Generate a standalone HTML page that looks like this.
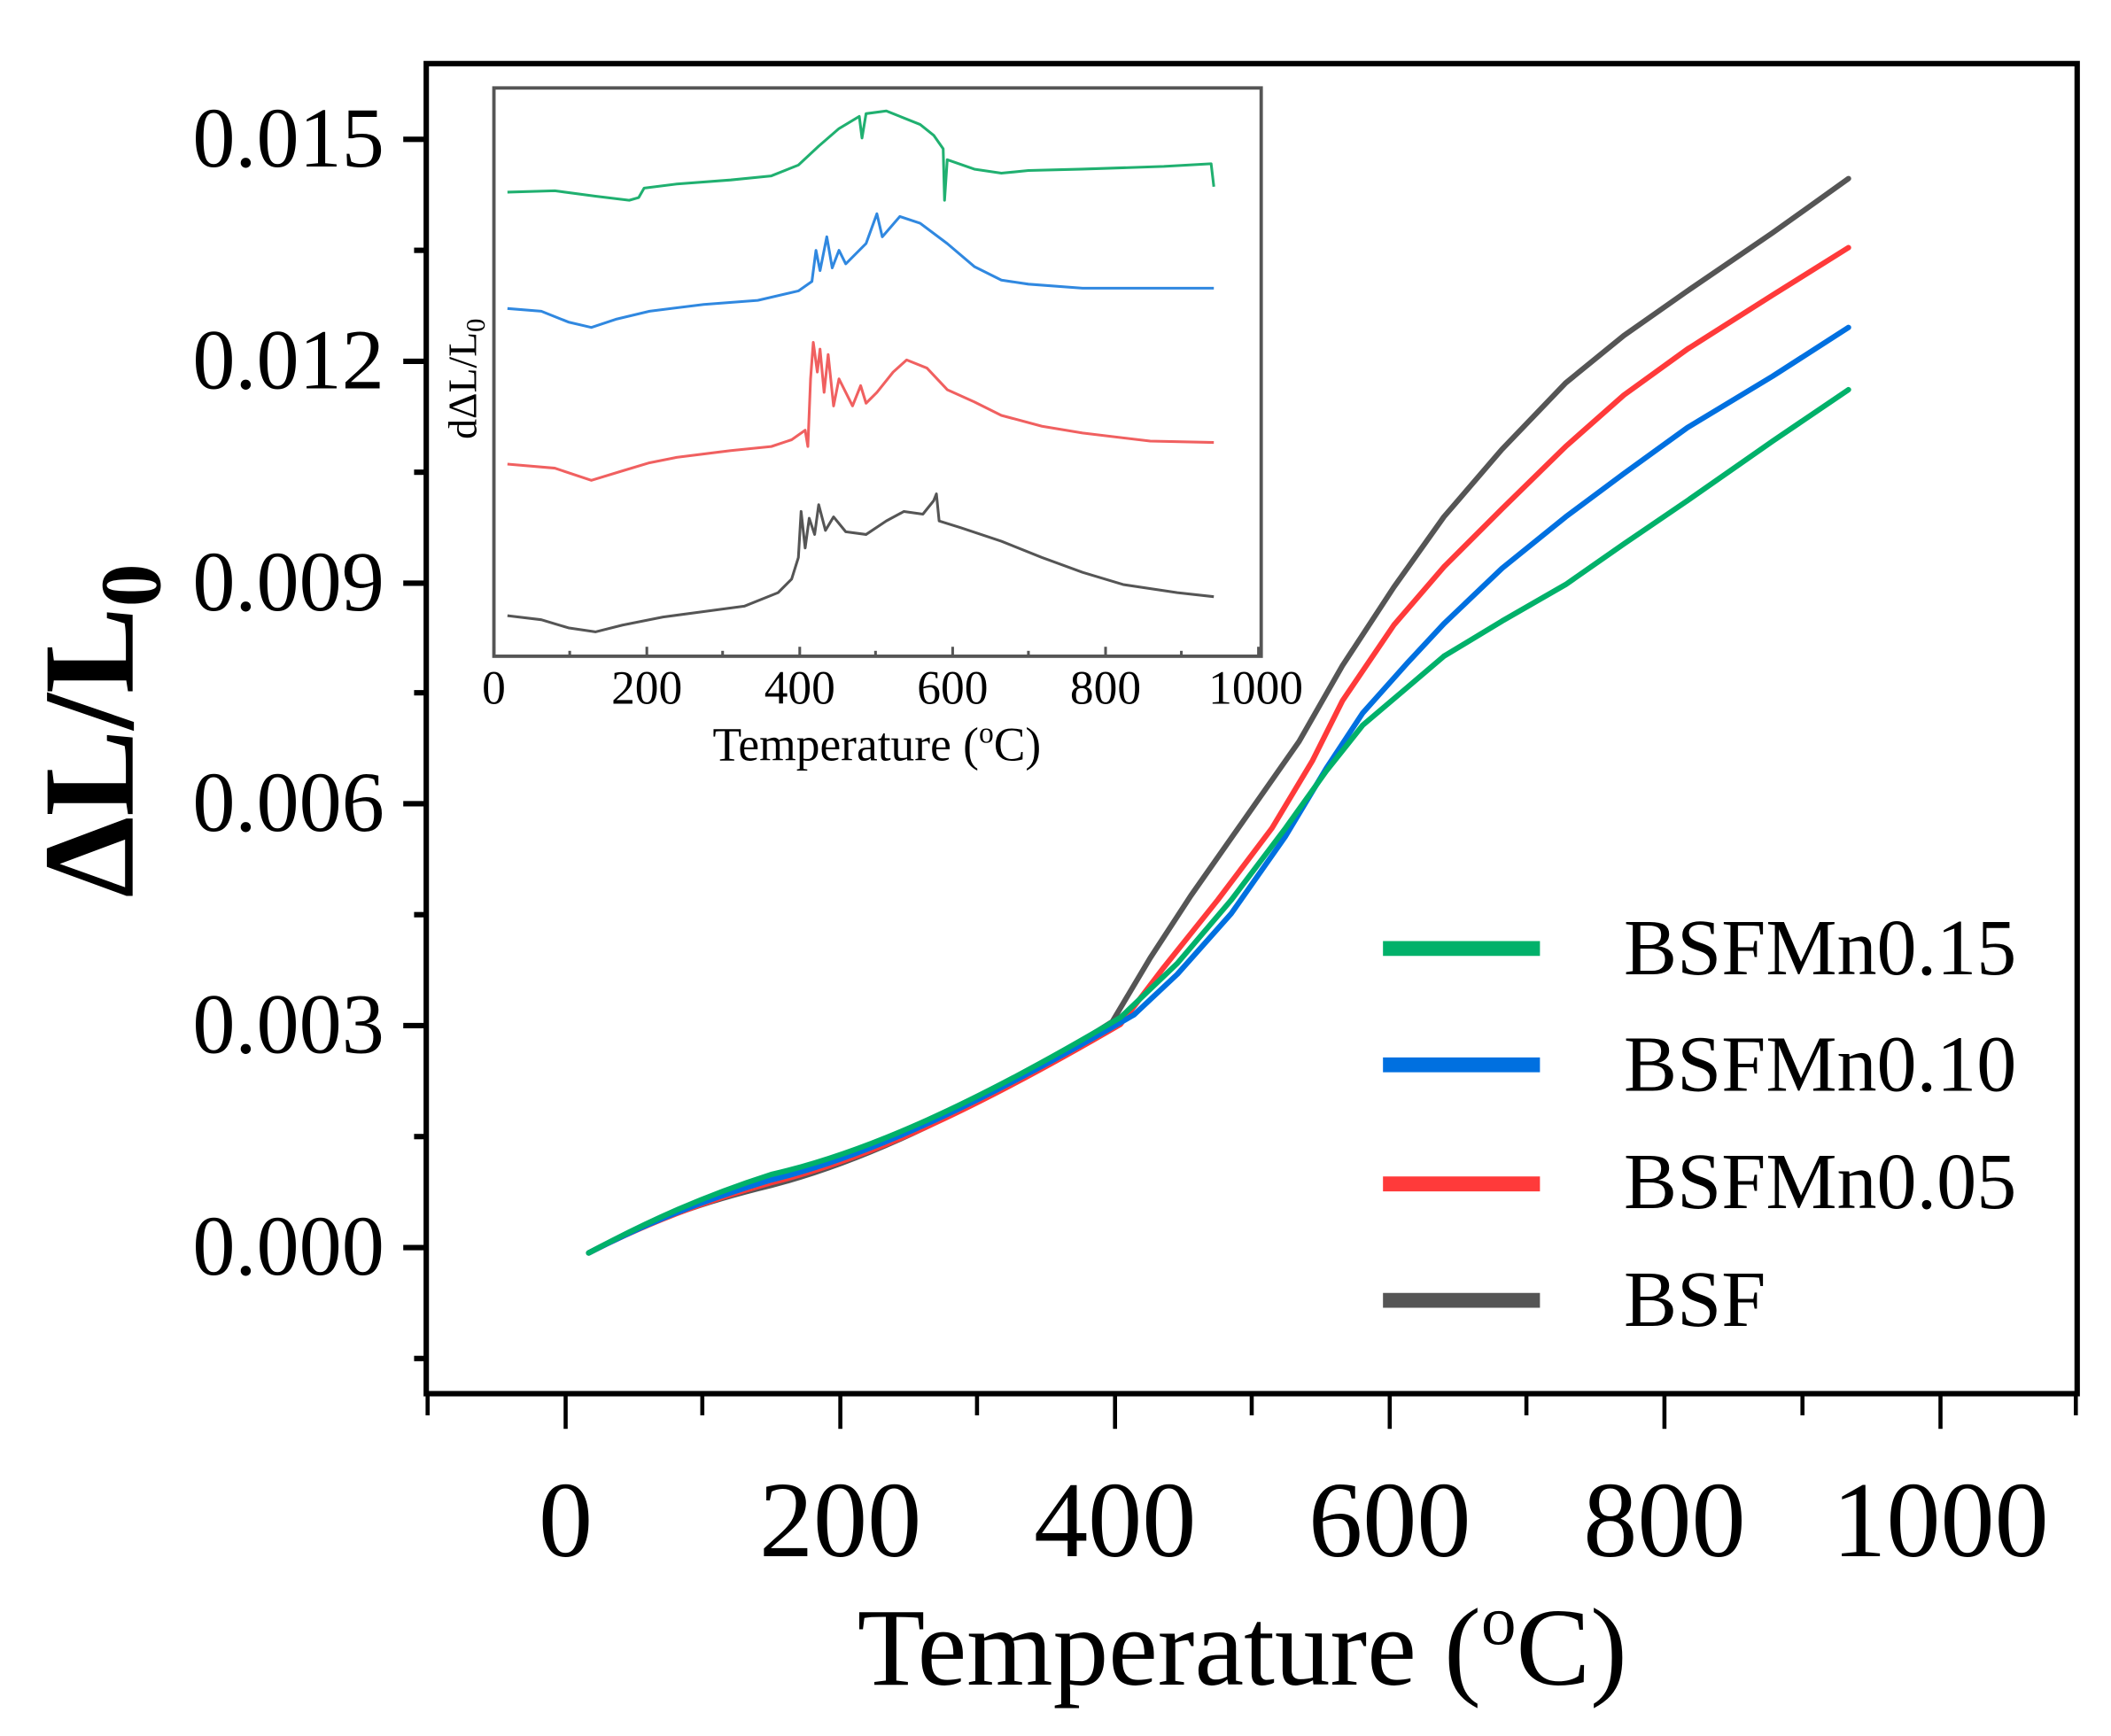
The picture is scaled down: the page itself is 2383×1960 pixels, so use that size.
<!DOCTYPE html>
<html><head><meta charset="utf-8"><style>html,body{margin:0;padding:0;background:#fff}svg{display:block}</style></head>
<body>
<svg width="2383" height="1960" viewBox="0 0 1560 1283" preserveAspectRatio="none" xmlns="http://www.w3.org/2000/svg" font-family="'Liberation Serif', serif">
<rect width="1560" height="1283" fill="#fff"/>
<rect x="315" y="47" width="1220" height="983" fill="none" stroke="#000" stroke-width="4"/>
<g stroke="#000" stroke-width="4">
<line x1="298" y1="103" x2="315" y2="103"/><line x1="298" y1="267" x2="315" y2="267"/>
<line x1="298" y1="431" x2="315" y2="431"/><line x1="298" y1="594" x2="315" y2="594"/>
<line x1="298" y1="758" x2="315" y2="758"/><line x1="298" y1="922" x2="315" y2="922"/>
<line x1="306" y1="185" x2="315" y2="185"/><line x1="306" y1="349" x2="315" y2="349"/>
<line x1="306" y1="512" x2="315" y2="512"/><line x1="306" y1="676" x2="315" y2="676"/>
<line x1="306" y1="840" x2="315" y2="840"/><line x1="306" y1="1004" x2="315" y2="1004"/>
</g>
<g stroke="#000" stroke-width="3">
<line x1="418" y1="1030" x2="418" y2="1056"/><line x1="621" y1="1030" x2="621" y2="1056"/>
<line x1="824" y1="1030" x2="824" y2="1056"/><line x1="1027" y1="1030" x2="1027" y2="1056"/>
<line x1="1230" y1="1030" x2="1230" y2="1056"/><line x1="1434" y1="1030" x2="1434" y2="1056"/>
<line x1="316" y1="1030" x2="316" y2="1046"/><line x1="519" y1="1030" x2="519" y2="1046"/>
<line x1="722" y1="1030" x2="722" y2="1046"/><line x1="925" y1="1030" x2="925" y2="1046"/>
<line x1="1128" y1="1030" x2="1128" y2="1046"/><line x1="1332" y1="1030" x2="1332" y2="1046"/>
<line x1="1534" y1="1030" x2="1534" y2="1046"/>
</g>
<g font-size="63" text-anchor="end" fill="#000">
<text x="284" y="123">0.015</text><text x="284" y="287">0.012</text><text x="284" y="451">0.009</text>
<text x="284" y="614">0.006</text><text x="284" y="778">0.003</text><text x="284" y="942">0.000</text>
</g>
<g font-size="80" text-anchor="middle" fill="#000">
<text x="418" y="1150">0</text><text x="621" y="1150">200</text><text x="824" y="1150">400</text>
<text x="1027" y="1150">600</text><text x="1230" y="1150">800</text><text x="1434" y="1150">1000</text>
</g>
<text x="918" y="1245" font-size="82" text-anchor="middle">Temperature (<tspan font-size="52" dy="-30">o</tspan><tspan dy="30">C)</tspan></text>
<text transform="translate(98,540) rotate(-90)" font-size="96" font-weight="bold" text-anchor="middle">ΔL/L<tspan font-size="64" dy="20">0</tspan></text>
<g fill="none" stroke-width="4" stroke-linejoin="round" stroke-linecap="round">
<path stroke="#555" d="M435,926 C480,902 520,888 570,876 C640,858 720,820 822,755 L850,708 L880,662 L920,605 L960,548 L992,492 L1030,434 L1067,382 L1110,332 L1157,283 L1200,248 L1247,215 L1310,172 L1366,132"/>
<path stroke="#ff3a3a" d="M435,926 C480,903 520,888 570,874 C640,857 720,820 828,757 L860,715 L900,665 L940,612 L970,562 L992,518 L1030,462 L1067,419 L1110,376 L1157,330 L1200,292 L1247,258 L1310,218 L1366,183"/>
<path stroke="#0070e0" d="M435,926 C480,903 520,887 570,872 C640,855 720,818 838,750 L870,720 L910,675 L950,618 L980,568 L1007,527 L1040,490 L1067,461 L1110,420 L1157,382 L1200,350 L1247,316 L1310,278 L1366,242"/>
<path stroke="#00b16a" d="M435,926 C480,902 520,884 570,868 C640,852 720,816 828,752 L870,712 L910,665 L950,612 L980,570 L1007,536 L1040,508 L1067,485 L1110,459 L1157,432 L1200,402 L1247,370 L1310,326 L1366,288"/>
</g>
<g stroke-width="11">
<line x1="1022" y1="701" x2="1138" y2="701" stroke="#00b16a"/>
<line x1="1022" y1="787" x2="1138" y2="787" stroke="#0070e0"/>
<line x1="1022" y1="875" x2="1138" y2="875" stroke="#ff3a3a"/>
<line x1="1022" y1="961" x2="1138" y2="961" stroke="#555"/>
</g>
<g font-size="59" fill="#000">
<text x="1200" y="720">BSFMn0.15</text><text x="1200" y="806">BSFMn0.10</text>
<text x="1200" y="893">BSFMn0.05</text><text x="1200" y="980">BSF</text>
</g>
<rect x="365" y="65" width="567" height="420" fill="#fff" stroke="#555" stroke-width="2.5"/>
<g stroke="#555" stroke-width="2">
<line x1="365" y1="485" x2="365" y2="478"/><line x1="478" y1="485" x2="478" y2="478"/>
<line x1="591" y1="485" x2="591" y2="478"/><line x1="704" y1="485" x2="704" y2="478"/>
<line x1="817" y1="485" x2="817" y2="478"/><line x1="930" y1="485" x2="930" y2="478"/>
<line x1="421" y1="485" x2="421" y2="481"/><line x1="534" y1="485" x2="534" y2="481"/>
<line x1="647" y1="485" x2="647" y2="481"/><line x1="760" y1="485" x2="760" y2="481"/>
<line x1="873" y1="485" x2="873" y2="481"/>
</g>
<g font-size="35" text-anchor="middle" fill="#000">
<text x="365" y="520">0</text><text x="478" y="520">200</text><text x="591" y="520">400</text>
<text x="704" y="520">600</text><text x="817" y="520">800</text><text x="928" y="520">1000</text>
</g>
<text x="648" y="562" font-size="35" text-anchor="middle">Temperature (<tspan font-size="22" dy="-13">o</tspan><tspan dy="13">C)</tspan></text>
<text transform="translate(352,280) rotate(-90)" font-size="30" text-anchor="middle">dΔL/L<tspan font-size="20" dy="6">0</tspan></text>
<g fill="none" stroke-width="2" stroke-linejoin="round">
<path stroke="#20b070" d="M375,142 L410,141 L440,145 L465,148 L472,146 L476,139 L500,136 L540,133 L570,130 L590,122 L605,108 L620,95 L635,86 L637,102 L640,84 L655,82 L665,86 L680,92 L690,100 L697,110 L698,148 L700,118 L720,125 L740,128 L760,126 L800,125 L860,123 L895,121 L897,138"/>
<path stroke="#3088e0" d="M375,228 L400,230 L420,238 L437,242 L455,236 L480,230 L520,225 L560,222 L590,215 L600,208 L603,185 L606,200 L611,175 L615,198 L620,185 L625,195 L640,180 L648,158 L652,175 L665,160 L680,165 L700,180 L720,197 L740,207 L760,210 L800,213 L860,213 L897,213"/>
<path stroke="#f06060" d="M375,343 L410,346 L437,355 L460,348 L480,342 L500,338 L540,333 L570,330 L585,325 L595,318 L597,330 L599,280 L601,253 L604,275 L606,258 L609,290 L612,262 L616,300 L620,280 L626,292 L630,300 L636,285 L640,298 L648,290 L660,275 L670,266 L685,272 L700,288 L720,297 L740,307 L770,315 L800,320 L850,326 L897,327"/>
<path stroke="#555" d="M375,455 L400,458 L420,464 L440,467 L460,462 L490,456 L520,452 L550,448 L575,438 L585,428 L590,412 L592,378 L595,405 L598,383 L602,395 L605,373 L610,392 L616,382 L625,393 L640,395 L655,385 L668,378 L682,380 L690,370 L692,365 L694,385 L710,390 L740,400 L770,412 L800,423 L830,432 L870,438 L897,441"/>
</g>
</svg>
</body></html>
